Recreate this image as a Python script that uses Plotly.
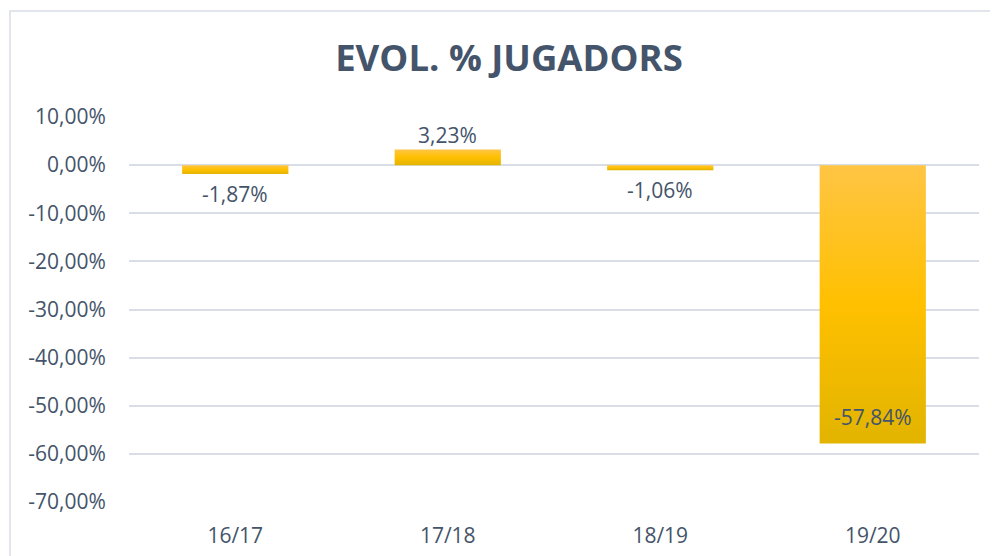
import plotly.graph_objects as go

categories = ["16/17", "17/18", "18/19", "19/20"]
values = [-1.87, 3.23, -1.06, -57.84]
labels = ["-1,87%", "3,23%", "-1,06%", "-57,84%"]
tick_vals = [10, 0, -10, -20, -30, -40, -50, -60, -70]
tick_text = ["10,00%", "0,00%", "-10,00%", "-20,00%", "-30,00%", "-40,00%", "-50,00%", "-60,00%", "-70,00%"]

W, H = 998, 556
OFF = 8  # page body offset
ML, MR, MT, MB = 129 - OFF, 998 - 979 + OFF, 117 - OFF, 556 - 502 + OFF
TXT = "#44546A"
GRID = "#D9DEE6"
BAR_W = 0.5
FONT = "Open Sans"

fig = go.Figure()
for i, v in enumerate(values):
    x0, x1 = i - BAR_W / 2, i + BAR_W / 2
    fig.add_trace(go.Scatter(
        x=[x0, x1, x1, x0, x0], y=[0, 0, v, v, 0],
        mode="lines", line=dict(width=0), fill="toself",
        fillgradient=dict(type="vertical",
                          colorscale=[[0, "#E2B400"], [0.5, "#FFC000"], [1, "#FFC544"]],
                          start=min(0, v), stop=max(0, v)),
        hoverinfo="skip", showlegend=False,
    ))

for i, (v, lab) in enumerate(zip(values, labels)):
    if v < -20:
        ya, ys = "bottom", 10
    elif v < 0:
        ya, ys = "top", -4
    else:
        ya, ys = "bottom", -1
    fig.add_annotation(x=i, y=v, text=lab, showarrow=False, yanchor=ya, yshift=ys,
                       font=dict(size=21, color=TXT, family=FONT))

pw = W - ML - MR
ph = H - MT - MB
bx0, by0 = 10 - OFF, 11 - OFF
fig.add_shape(type="rect", xref="paper", yref="paper",
              x0=(bx0 - ML) / pw, x1=(W + 20 - ML) / pw,
              y0=-(H + 20 - (H - MB)) / ph, y1=(H - MB - by0) / ph,
              line=dict(color="#D9DEE6", width=1.5), fillcolor="rgba(0,0,0,0)", layer="below")

fig.update_layout(
    width=W, height=H,
    margin=dict(l=ML, r=MR, t=MT, b=MB, pad=0),
    paper_bgcolor="white", plot_bgcolor="white",
    title=dict(text="<b>EVOL. % JUGADORS</b>", x=(509 - OFF) / W, xanchor="center",
               y=1 - (58 - OFF) / H, yanchor="middle",
               font=dict(size=36.5, color=TXT, family=FONT)),
    font=dict(family=FONT, color=TXT, size=21),
    xaxis=dict(range=[-0.5, 3.5], tickvals=list(range(4)), ticktext=categories,
               showgrid=False, zeroline=False, showline=False, ticks="outside", ticklen=15,
               tickcolor="rgba(0,0,0,0)", tickfont=dict(size=21, color=TXT)),
    yaxis=dict(range=[-70, 10], tickvals=tick_vals, ticktext=tick_text,
               showgrid=True, gridcolor=GRID, gridwidth=1.5, zeroline=True, zerolinecolor=GRID,
               zerolinewidth=1.5, showline=False, ticks="outside", ticklen=18,
               tickcolor="rgba(0,0,0,0)", tickfont=dict(size=21, color=TXT)),
)

fig.write_html("out.html")
